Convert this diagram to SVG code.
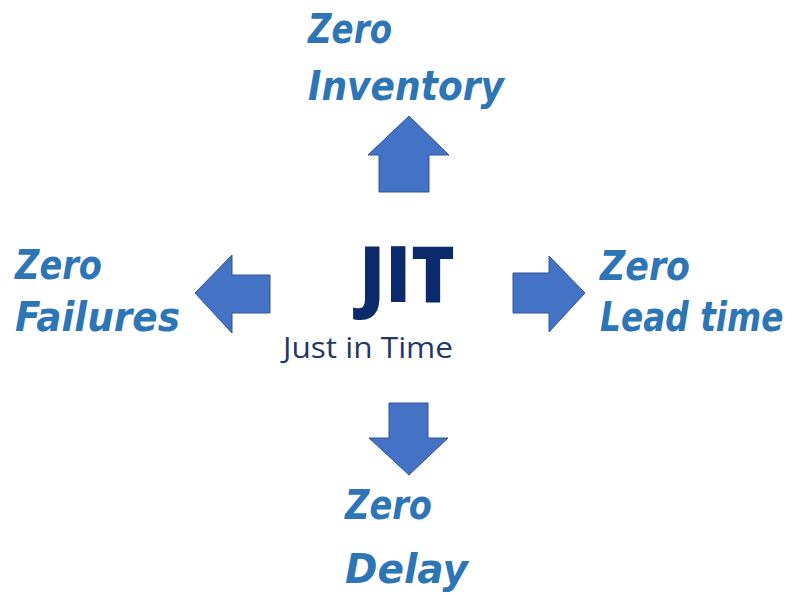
<svg xmlns="http://www.w3.org/2000/svg" width="796" height="593" viewBox="0 0 796 593">
<style>
.lbl{font-family:"DejaVu Sans",sans-serif;font-weight:bold;font-style:italic;font-size:40px;fill:#2e75b6}
.arrow{fill:#4472c4;stroke:#2f5597;stroke-width:1}
.jit{font-family:"Open Sans",sans-serif;font-weight:800;font-size:78px;fill:#0b2a6b}
.sub{font-family:"Open Sans",sans-serif;font-size:29px;fill:#1f3864}
</style>
<rect width="796" height="593" fill="#ffffff"/>
<g id="center">
<text class="jit" x="359" y="302" textLength="96" lengthAdjust="spacingAndGlyphs">JIT</text>
<text class="sub" x="283" y="358" textLength="170" lengthAdjust="spacingAndGlyphs">Just in Time</text>
</g>
<g id="connectors">
<polygon class="arrow" points="379,192 379,155 368,155 409,116 449,155 429,155 429,192"/>
<polygon class="arrow" points="270,275 232,275 232,255 195,293 232,333 232,313 270,313"/>
<polygon class="arrow" points="513,273 549,273 549,256 585,293 549,332 549,313 513,313"/>
<polygon class="arrow" points="389,403 428,403 428,438 448,438 409,475 369,438 389,438"/>
</g>
<g id="zero-inventory">
<text class="lbl" x="308" y="43" textLength="84" lengthAdjust="spacingAndGlyphs">Zero</text>
<text class="lbl" x="308" y="100" textLength="196" lengthAdjust="spacingAndGlyphs">Inventory</text>
</g>
<g id="zero-failures">
<text class="lbl" x="15" y="279" textLength="87" lengthAdjust="spacingAndGlyphs">Zero</text>
<text class="lbl" x="15" y="331" textLength="165" lengthAdjust="spacingAndGlyphs">Failures</text>
</g>
<g id="zero-lead-time">
<text class="lbl" x="600" y="280" textLength="90" lengthAdjust="spacingAndGlyphs">Zero</text>
<text class="lbl" transform="translate(600,331) scale(0.82,1)" x="0" y="0">Lead time</text>
</g>
<g id="zero-delay">
<text class="lbl" x="345" y="519" textLength="87" lengthAdjust="spacingAndGlyphs">Zero</text>
<text class="lbl" x="345" y="583" textLength="123" lengthAdjust="spacingAndGlyphs">Delay</text>
</g>
</svg>
